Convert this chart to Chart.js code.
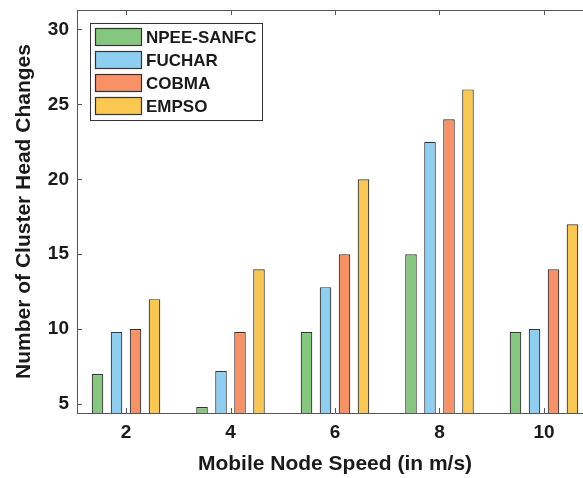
<!DOCTYPE html>
<html><head><meta charset="utf-8">
<script src="https://cdn.jsdelivr.net/npm/chart.js@4"></script>
<style>html,body{margin:0;padding:0;background:#fff;overflow:hidden;width:583px;height:478px}
#wrap{width:600px;height:478px}</style></head>
<body><div id="wrap"><canvas id="c" width="600" height="478"></canvas></div>
<script>
const speeds = [2, 4, 6, 8, 10];
const seriesNames = ['NPEE-SANFC', 'FUCHAR', 'COBMA', 'EMPSO'];
const npeeSanfc = [7, 4.8, 9.8, 15, 9.8];
const fuchar = [9.8, 7.2, 12.8, 22.5, 10];
const cobma = [10, 9.8, 15, 24, 14];
const empso = [12, 14, 20, 26, 17];
const yTicks = [5, 10, 15, 20, 25, 30];
const xTicks = [2, 4, 6, 8, 10];
const xTitle = 'Mobile Node Speed (in m/s)';
const yTitle = 'Number of Cluster Head Changes';

const FONT = "'Liberation Sans', Arial, Helvetica, sans-serif";
const fills = ['#85C77F', '#8ECEF0', '#F89166', '#FAC850'];
const AXIS = '#555555';
const TEXT = '#1a1a1a';

const seriesValues = [npeeSanfc, fuchar, cobma, empso];
const datasets = seriesValues.map((vals, i) => ({
  label: seriesNames[i],
  data: speeds.map((s, j) => ({ x: s, y: vals[j] })),
  backgroundColor: fills[i],
  borderColor: '#333333',
  borderWidth: 1.2,
  borderSkipped: 'start',
  categoryPercentage: 0.727,
  barPercentage: 0.61
}));

const boxPlugin = {
  id: 'boxAndLegend',
  afterDatasetsDraw(chart) {
    const { ctx, chartArea: a, scales } = chart;
    ctx.save();
    ctx.strokeStyle = AXIS;
    ctx.lineWidth = 1;
    ctx.beginPath();
    ctx.moveTo(a.left, Math.round(a.top) + 0.5);
    ctx.lineTo(a.right, Math.round(a.top) + 0.5);
    ctx.moveTo(Math.round(a.right) + 0.5, a.top);
    ctx.lineTo(Math.round(a.right) + 0.5, a.bottom);
    ctx.stroke();
    ctx.beginPath();
    xTicks.forEach(v => {
      const px = Math.round(scales.x.getPixelForValue(v)) + 0.5;
      ctx.moveTo(px, a.bottom); ctx.lineTo(px, a.bottom - 5);
      ctx.moveTo(px, a.top); ctx.lineTo(px, a.top + 5);
    });
    yTicks.forEach(v => {
      const py = Math.round(scales.y.getPixelForValue(v)) + 0.5;
      ctx.moveTo(a.left, py); ctx.lineTo(a.left + 5, py);
      ctx.moveTo(a.right, py); ctx.lineTo(a.right - 5, py);
    });
    ctx.stroke();
    ctx.restore();
  },
  afterDraw(chart) {
    const { ctx } = chart;
    ctx.save();
    const bx = 90.5, by = 23.5, bw = 172, bh = 97;
    ctx.fillStyle = '#ffffff';
    ctx.fillRect(bx, by, bw, bh);
    ctx.strokeStyle = '#333333';
    ctx.lineWidth = 1;
    ctx.strokeRect(bx, by, bw, bh);
    chart.data.datasets.forEach((ds, i) => {
      const cy = 37 + i * 23;
      ctx.fillStyle = ds.backgroundColor;
      ctx.fillRect(95.5, cy - 8.5, 46, 17);
      ctx.strokeStyle = '#333333';
      ctx.lineWidth = 1.2;
      ctx.strokeRect(95.5, cy - 8.5, 46, 17);
      ctx.fillStyle = TEXT;
      ctx.font = 'bold 17px ' + FONT;
      ctx.textBaseline = 'middle';
      ctx.textAlign = 'left';
      ctx.fillText(ds.label, 146, cy + 1);
    });
    ctx.restore();
  }
};

new Chart(document.getElementById('c'), {
  type: 'bar',
  data: { datasets },
  options: {
    responsive: false,
    animation: false,
    devicePixelRatio: 1,
    layout: { padding: { left: 0, top: 10, right: 7, bottom: 0 } },
    plugins: { legend: { display: false }, tooltip: { enabled: false } },
    scales: {
      x: {
        type: 'linear',
        offset: false,
        min: 1.062,
        max: 10.938,
        afterBuildTicks: s => { s.ticks = xTicks.map(v => ({ value: v })); },
        afterFit: s => { s.height = 65; s.paddingLeft = 0; s.paddingRight = 0; },
        grid: { display: false, drawTicks: false },
        border: { display: true, color: AXIS, width: 1 },
        ticks: { color: TEXT, font: { family: FONT, size: 19, weight: 'bold' }, padding: 8, maxRotation: 0 },
        title: { display: true, text: xTitle, color: TEXT, font: { family: FONT, size: 21, weight: 'bold' }, padding: { top: 0, bottom: 1 } }
      },
      y: {
        min: 4.4,
        max: 31.3,
        afterBuildTicks: s => { s.ticks = yTicks.map(v => ({ value: v })); },
        afterFit: s => { s.width = 77; s.paddingTop = 0; s.paddingBottom = 0; },
        grid: { display: false, drawTicks: false },
        border: { display: true, color: AXIS, width: 1 },
        ticks: { color: TEXT, font: { family: FONT, size: 19, weight: 'bold' }, padding: 8 },
        title: { display: true, text: yTitle, color: TEXT, font: { family: FONT, size: 21, weight: 'bold' }, padding: { top: 12, bottom: 0 } }
      }
    }
  },
  plugins: [boxPlugin]
});
</script></body></html>
